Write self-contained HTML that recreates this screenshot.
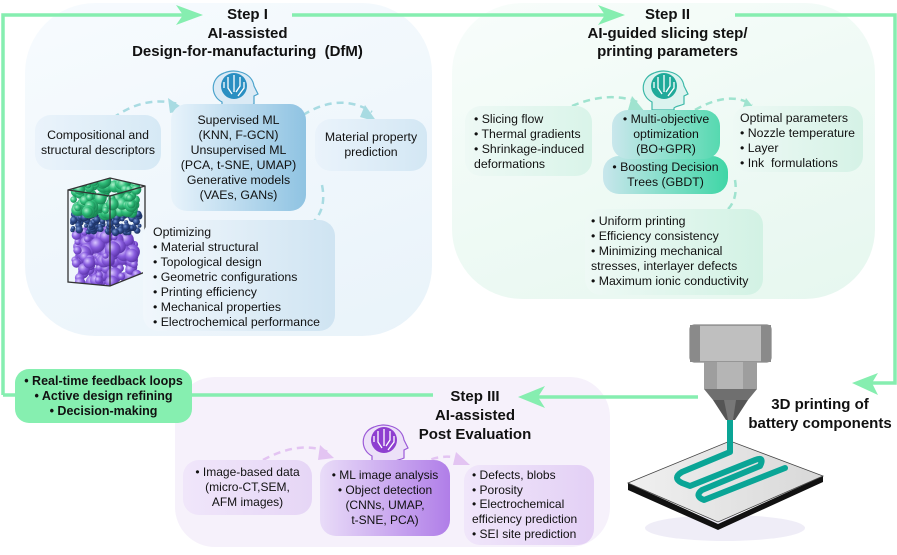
<!DOCTYPE html>
<html><head><meta charset="utf-8"><style>
body{margin:0;width:897px;height:555px;background:#fff;position:relative;overflow:hidden;font-family:"Liberation Sans",Arial,sans-serif;color:#111}
.a{position:absolute}
.t{position:absolute;font-weight:bold;font-size:15px;text-align:center;line-height:18.5px;color:#111}
.box{position:absolute;font-size:12.3px;line-height:15px;border-radius:16px;box-sizing:border-box}
.c{text-align:center;display:flex;flex-direction:column;justify-content:center}
</style></head><body>
<div class="a" style="left:25px;top:3px;width:407px;height:333px;border-radius:70px;background:linear-gradient(160deg,#f7fbfe,#e9f3fa)"></div>
<div class="a" style="left:452px;top:3px;width:423px;height:296px;border-radius:70px;background:linear-gradient(160deg,#f8fdfb,#e6f7ef)"></div>
<div class="a" style="left:175px;top:377px;width:435px;height:170px;border-radius:40px;background:#f6f1fb"></div>

<svg class="a" style="left:0;top:0" width="897" height="555">
<defs>
<linearGradient id="pl" x1="0" y1="0" x2="1" y2="0"><stop offset="0" stop-color="#f0f0f0"/><stop offset="1" stop-color="#d8d8d8"/></linearGradient>
<radialGradient id="gG" cx="0.35" cy="0.35" r="0.7"><stop offset="0" stop-color="#aef0cc"/><stop offset="0.5" stop-color="#2fbf7a"/><stop offset="1" stop-color="#17804f"/></radialGradient>
<radialGradient id="gN" cx="0.35" cy="0.35" r="0.7"><stop offset="0" stop-color="#7f9cd6"/><stop offset="0.5" stop-color="#2d4a8c"/><stop offset="1" stop-color="#172a55"/></radialGradient>
<radialGradient id="gP" cx="0.35" cy="0.35" r="0.7"><stop offset="0" stop-color="#d8c6ff"/><stop offset="0.5" stop-color="#8a5ee0"/><stop offset="1" stop-color="#5a32a8"/></radialGradient>
<clipPath id="cb"><polygon points="68,190 110,178 145,186 145,272 110,286 68,282"/></clipPath>
</defs>
<g stroke="#86eeb0" stroke-width="3.5" fill="none">
<polyline points="3,395 3,15 188,15"/>
<line x1="292" y1="15" x2="610" y2="15"/>
<polyline points="735,15 895,15 895,383 868,383"/>
<line x1="698" y1="397" x2="530" y2="397"/>
<line x1="190" y1="395" x2="433" y2="395"/>
<line x1="3" y1="395" x2="16" y2="395"/>
</g>
<g fill="#86eeb0">
<polygon points="176,5 203,15 176,25 183,15"/>
<polygon points="598,5 625,15 598,25 605,15"/>
<polygon points="852,383 878,373 872,383 878,395"/>
<polygon points="518,397 545,386 538,397 545,408"/>
</g>
<g fill="none" stroke-width="2.5" stroke-dasharray="7,5">
<path d="M113,118 Q145,95 178,104" stroke="#a8dbe2"/>
<path d="M303,115 Q340,92 372,112" stroke="#a8dbe2"/>
<path d="M322,185 Q328,215 305,228" stroke="#a8dbe2"/>
<path d="M572,106 Q610,90 640,103" stroke="#9fe3cf"/>
<path d="M695,110 Q730,90 752,105" stroke="#9fe3cf"/>
<path d="M735,180 Q740,210 710,220" stroke="#9fe3cf"/>
<path d="M263,460 Q300,440 328,452" stroke="#e3c4f2"/>
<path d="M410,470 Q440,450 463,460" stroke="#e3c4f2"/>
</g>
<g fill="#a8dbe2"><polygon points="168,98 186,110 170,113"/><polygon points="365,105 377,122 360,117"/><polygon points="308,223 290,230 305,236"/></g>
<g fill="#9fe3cf"><polygon points="632,96 645,112 628,110"/><polygon points="746,98 758,113 742,110"/><polygon points="716,213 700,221 715,228"/></g>
<g fill="#e3c4f2"><polygon points="320,445 334,458 318,460"/><polygon points="456,452 470,465 453,465"/></g>

<g transform="translate(222,78)">
<path d="M0,32 L0,24 C-12,18 -12,0 2,-5 C14,-10 30,-5 32,8 L36,16 L32,18 L32,26 C28,28 24,28 22,30 L22,32 Z" fill="#dbeaf5" stroke="#4ba3cc" stroke-width="1.2"/>
<circle cx="12" cy="8" r="13" fill="#2a8fc2"/>
<g stroke="#fff" stroke-width="1.3" fill="none"><path d="M6,-1 V10 L10,16 M12,-3 V14 M18,-1 V8 L14,14 M2,4 V10 M22,4 V10 L16,18"/></g>
</g>
<g transform="translate(652,78)">
<path d="M0,32 L0,24 C-12,18 -12,0 2,-5 C14,-10 30,-5 32,8 L36,16 L32,18 L32,26 C28,28 24,28 22,30 L22,32 Z" fill="#dcf3ef" stroke="#3bb8a8" stroke-width="1.2"/>
<circle cx="12" cy="8" r="13" fill="#20aa9a"/>
<g stroke="#fff" stroke-width="1.3" fill="none"><path d="M6,-1 V10 L10,16 M12,-3 V14 M18,-1 V8 L14,14 M2,4 V10 M22,4 V10 L16,18"/></g>
</g>
<g transform="translate(372,432)">
<path d="M0,32 L0,24 C-12,18 -12,0 2,-5 C14,-10 30,-5 32,8 L36,16 L32,18 L32,26 C28,28 24,28 22,30 L22,32 Z" fill="#ece0f8" stroke="#9b5ad8" stroke-width="1.2"/>
<circle cx="12" cy="8" r="13" fill="#8e3fd0"/>
<g stroke="#fff" stroke-width="1.3" fill="none"><path d="M6,-1 V10 L10,16 M12,-3 V14 M18,-1 V8 L14,14 M2,4 V10 M22,4 V10 L16,18"/></g>
</g>

<g id="parts" clip-path="url(#cb)"></g>
<g stroke="#333" stroke-width="1.3" fill="none">
<polygon points="68,190 110,178 145,186 145,272 110,286 68,282"/>
<line x1="68" y1="190" x2="110" y2="196"/><line x1="110" y1="196" x2="145" y2="186"/><line x1="110" y1="196" x2="110" y2="286"/>
</g>

<ellipse cx="725" cy="528" rx="80" ry="13" fill="#efedf7"/>
<polygon points="628,490 718,530 823,482 823,476 718,524 628,483" fill="#111"/>
<polygon points="628,483 730,441 823,476 718,522" fill="url(#pl)" stroke="#444" stroke-width="0.8"/>
<g fill="none" stroke="#0aa596" stroke-width="6" stroke-linecap="round" stroke-linejoin="round">
<path d="M730,418 V452 L682,472 Q672,478 682,483 L690,486 L755,460 Q765,456 760,466 L702,490 Q694,496 704,500 L785,468"/>
</g>
<rect x="690" y="325" width="81" height="37" rx="4" fill="#bfbfbf" stroke="#6d6d6d" stroke-width="1"/>
<rect x="690" y="325" width="10" height="37" fill="#8a8a8a"/><rect x="761" y="325" width="10" height="37" fill="#8a8a8a"/>
<rect x="704" y="362" width="53" height="27" fill="#9e9e9e"/><rect x="717" y="362" width="26" height="27" fill="#b5b5b5"/>
<polygon points="704,389 757,389 748,400 713,400" fill="#6f6f6f"/>
<polygon points="713,400 748,400 735,420 726,420" fill="#555"/>
<polygon points="724,400 736,400 733,420 728,420" fill="#777"/>
</svg>

<div class="t" style="left:100px;top:6px;width:295px">Step I<br>AI-assisted<br>Design-for-manufacturing&nbsp; (DfM)</div>
<div class="t" style="left:560px;top:6px;width:215px">Step II<br>AI-guided slicing step/<br>printing parameters</div>
<div class="t" style="left:400px;top:387px;width:150px;line-height:19px">Step III<br>AI-assisted<br>Post Evaluation</div>
<div class="t" style="left:745px;top:395px;width:150px;line-height:19px">3D printing of<br>battery components</div>

<div class="box c" style="left:35px;top:115px;width:126px;height:55px;background:linear-gradient(90deg,#eaf3fb,#d6e9f5)">Compositional and<br>structural descriptors</div>
<div class="box c" style="left:171px;top:104px;width:135px;height:107px;background:linear-gradient(90deg,#e8f3fb,#8fc3e2)">Supervised ML<br>(KNN, F-GCN)<br>Unsupervised ML<br>(PCA, t-SNE, UMAP)<br>Generative models<br>(VAEs, GANs)</div>
<div class="box c" style="left:315px;top:119px;width:112px;height:52px;background:linear-gradient(90deg,#eaf3fb,#d3e7f4)">Material property<br>prediction</div>
<div class="box" style="left:143px;top:220px;width:192px;height:111px;padding:5px 0 0 10px;background:linear-gradient(90deg,#f1f7fc,#cfe4f2)">Optimizing<br>• Material structural<br>• Topological design<br>• Geometric configurations<br>• Printing efficiency<br>• Mechanical properties<br>• Electrochemical performance</div>

<div class="box" style="left:465px;top:106px;width:127px;height:70px;padding:6px 0 0 9px;background:linear-gradient(90deg,#eef9f5,#d9f4e9)">• Slicing flow<br>• Thermal gradients<br>• Shrinkage-induced<br>deformations</div>
<div class="box c" style="left:603px;top:156px;width:125px;height:38px;background:linear-gradient(90deg,#c8e6ec,#3fd6a6)">• Boosting Decision<br>Trees (GBDT)</div>
<div class="box c" style="left:612px;top:110px;width:108px;height:49px;background:linear-gradient(90deg,#c9e7ec,#56d9b0)">• Multi-objective<br>optimization<br>(BO+GPR)</div>
<div class="box" style="left:733px;top:106px;width:130px;height:66px;padding:5px 0 0 7px;background:linear-gradient(90deg,#eef9f5,#d5f2e6)">Optimal parameters<br>• Nozzle temperature<br>• Layer<br>• Ink&nbsp; formulations</div>
<div class="box" style="left:585px;top:209px;width:178px;height:86px;padding:5px 0 0 6px;background:linear-gradient(90deg,#eef9f5,#d2f2e4)">• Uniform printing<br>• Efficiency consistency<br>• Minimizing mechanical<br>stresses, interlayer defects<br>• Maximum ionic conductivity</div>

<div class="box c" style="left:183px;top:460px;width:129px;height:55px;font-size:12px;background:linear-gradient(90deg,#f0e6fa,#e6d6f6)">• Image-based data<br>(micro-CT,SEM,<br>AFM images)</div>
<div class="box c" style="left:320px;top:460px;width:130px;height:76px;font-size:12px;background:linear-gradient(90deg,#e9dcf8,#b07ee8)">• ML image analysis<br>• Object detection<br>(CNNs, UMAP,<br>t-SNE, PCA)</div>
<div class="box" style="left:464px;top:465px;width:130px;height:80px;font-size:12px;padding:3px 0 0 8px;line-height:14.7px;background:linear-gradient(90deg,#f0e6fa,#e3d0f5)">• Defects, blobs<br>• Porosity<br>• Electrochemical<br>efficiency prediction<br>• SEI site prediction</div>

<div class="box c" style="left:15px;top:369px;width:177px;height:54px;border-radius:14px;background:#86efb0;font-weight:bold;font-size:12.5px">• Real-time feedback loops<br>• Active design refining<br>• Decision-making</div>

<script>
var g=document.getElementById('parts'),s='',seed=7;
function r(){seed=(seed*9301+49297)%233280;return seed/233280;}
function layer(y0,y1,n,rmin,rmax,c){for(var i=0;i<n;i++){var rr=rmin+r()*(rmax-rmin),x=70+rr+r()*(73-2*rr),y=y0+r()*(y1-y0);s+='<circle cx="'+x.toFixed(1)+'" cy="'+y.toFixed(1)+'" r="'+rr.toFixed(1)+'" fill="'+c+'"/>';}}
layer(232,284,110,3,8,'url(#gP)');
layer(214,233,110,2,3.8,'url(#gN)');
layer(180,214,110,3,7,'url(#gG)');
g.innerHTML=s;
</script>
</body></html>
